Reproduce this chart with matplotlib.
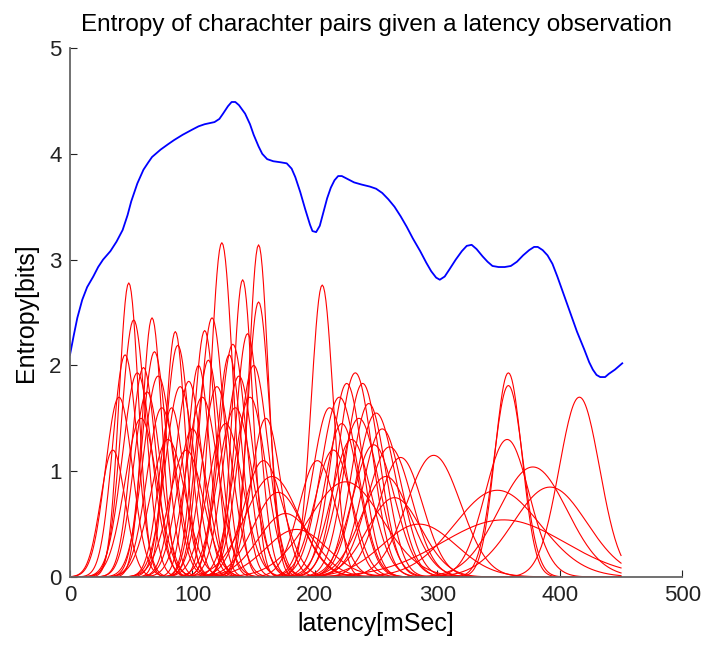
import numpy as np
import matplotlib.pyplot as plt

plt.rcParams['font.family'] = ['Liberation Sans', 'DejaVu Sans']

# overall entropy vs latency (ms, bits)
total_ms = [0, 3, 6, 10, 14, 19, 23, 27, 33, 38, 43, 47, 50, 55, 60, 64, 67,
            74, 80, 85, 92, 100, 105, 110, 118, 122, 125, 129, 132, 135, 138,
            143, 147, 150, 154, 157, 161, 166, 172, 177, 181, 184, 188, 192,
            196, 198, 201, 204, 207, 210, 213, 216, 219, 222, 227, 232, 238,
            245, 250, 255, 260, 265, 270, 275, 280, 286, 291, 295, 299, 302,
            306, 310, 315, 320, 324, 328, 332, 337, 341, 345, 350, 355, 360,
            365, 370, 375, 379, 382, 386, 390, 394, 398, 402, 406, 410, 414,
            420, 424, 427, 430, 433, 437, 440, 445, 451]
total_bits = [2.10, 2.28, 2.45, 2.62, 2.74, 2.84, 2.93, 3.00, 3.08, 3.17, 3.28,
              3.42, 3.55, 3.72, 3.85, 3.92, 3.97, 4.04, 4.09, 4.13, 4.18,
              4.23, 4.26, 4.28, 4.30, 4.33, 4.38, 4.45, 4.49, 4.49, 4.46,
              4.38, 4.28, 4.18, 4.07, 4.00, 3.95, 3.93, 3.92, 3.91, 3.86,
              3.78, 3.64, 3.48, 3.33, 3.27, 3.26, 3.32, 3.45, 3.58, 3.68,
              3.75, 3.79, 3.79, 3.76, 3.73, 3.71, 3.69, 3.67, 3.63, 3.57,
              3.50, 3.41, 3.31, 3.20, 3.08, 2.97, 2.89, 2.83, 2.81, 2.84,
              2.91, 3.00, 3.08, 3.13, 3.14, 3.10, 3.03, 2.98, 2.94, 2.93,
              2.93, 2.94, 2.98, 3.04, 3.09, 3.12, 3.12, 3.09, 3.04, 2.96,
              2.84, 2.71, 2.58, 2.45, 2.32, 2.15, 2.03, 1.96, 1.91, 1.89,
              1.89, 1.92, 1.96, 2.02]

# per character pair curves: peak latency (ms), peak entropy (bits), spread (ms)
pair_peak_ms = [48, 52, 55, 60, 67, 69, 86, 88, 90, 35, 75, 100, 105, 110,
                116, 124, 130, 141, 145, 154, 154, 150, 160, 165, 120, 135, 95,
                206, 202, 212, 220, 226, 233, 239, 244, 250, 255, 261, 270, 230,
                225, 297, 358, 358, 357, 416, 378, 349, 392, 354,
                40, 45, 58, 63, 72, 80, 83, 97, 108, 113, 127, 133, 138, 147,
                158, 170, 176, 185, 215, 222, 236, 248, 258, 265, 285]
pair_peak_bits = [2.78, 2.43, 1.93, 1.98, 2.45, 2.13, 2.32, 2.19, 1.80, 1.20,
                  1.60, 1.40, 2.00, 2.33, 2.45, 3.16, 2.10, 2.81, 2.30, 3.14,
                  2.60, 2.00, 1.50, 0.95, 1.80, 1.60, 1.20, 2.76, 1.10, 1.60,
                  1.70, 1.83, 1.93, 1.83, 1.64, 1.55, 1.40, 1.23, 1.13, 1.30,
                  0.90, 1.15, 1.93, 1.81, 1.30, 1.70, 1.04, 0.82, 0.85, 0.54,
                  1.70, 2.10, 1.50, 1.75, 1.90, 1.30, 1.60, 1.85, 1.70, 2.05,
                  1.45, 2.20, 1.90, 1.70, 1.10, 0.80, 0.60, 0.45, 1.20, 1.45,
                  1.50, 1.25, 0.95, 0.75, 0.50]
pair_spread_ms = [8, 10, 12, 10, 8, 10, 8, 10, 12, 10, 12, 12, 9, 9, 10, 9, 10,
                  8, 10, 8, 9, 12, 12, 22, 12, 14, 14, 9, 15, 14, 15, 13, 14,
                  14, 14, 16, 16, 18, 18, 16, 30, 22, 11, 12, 18, 16.5, 28, 35,
                  30, 50,
                  11, 10, 13, 11, 12, 14, 10, 11, 13, 10, 14, 11, 12, 13, 16,
                  20, 22, 25, 15, 14, 16, 17, 20, 22, 30]

fig = plt.figure(figsize=(7.07, 6.5), dpi=100)
ax = fig.add_axes([0.099, 0.1123, 0.866, 0.8138])

t = np.arange(0, 451, 1.0)
for c, h, s in zip(pair_peak_ms, pair_peak_bits, pair_spread_ms):
    ax.plot(t, h * np.exp(-0.5 * ((t - c) / s) ** 2), color='#ff0000', lw=0.8)

ax.plot(total_ms, total_bits, color='#0000ff', lw=1.3)

ax.set_xlim(0, 500)
ax.set_ylim(0, 5)
ax.set_xticks(range(0, 501, 100))
ax.set_yticks(range(0, 6))
ax.tick_params(direction='in', length=5, labelsize=16, colors='#222222',
               pad=6)
for side in ['top', 'right']:
    ax.spines[side].set_visible(False)
for side in ['left', 'bottom']:
    ax.spines[side].set_color('#666666')
    ax.spines[side].set_linewidth(1.3)

ax.set_title('Entropy of charachter pairs given a latency observation',
             fontsize=17.5, pad=12)
ax.set_xlabel('latency[mSec]', fontsize=18, labelpad=4)
ax.set_ylabel('Entropy[bits]', fontsize=18, labelpad=8)

fig.savefig('out.png', dpi=100)
